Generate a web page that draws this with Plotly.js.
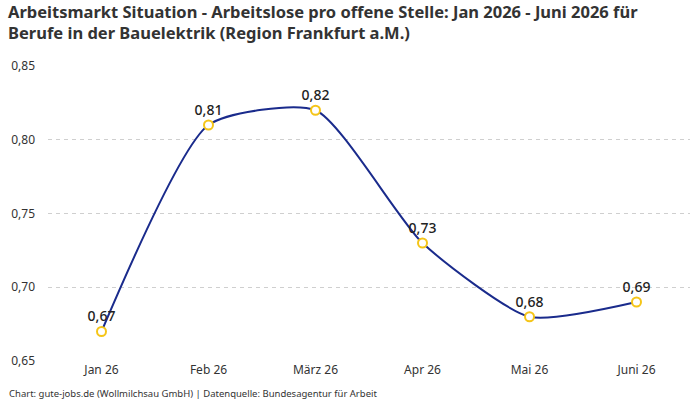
<!DOCTYPE html>
<html><head><meta charset="utf-8">
<script src="https://cdn.plot.ly/plotly-3.0.1.min.js"></script>
<style>html,body{margin:0;padding:0;background:#fff}#chart{width:700px;height:400px}</style>
</head><body><div id="chart"></div>
<script>
const categories = ["Jan 26","Feb 26","März 26","Apr 26","Mai 26","Juni 26"];
const values = [0.67, 0.81, 0.82, 0.73, 0.68, 0.69];
const yTicks = [0.65, 0.70, 0.75, 0.80, 0.85];
const yTickLabels = ["0,65","0,70","0,75","0,80","0,85"];
const valueLabels = values.map(v => v.toFixed(2).replace(".", ","));
const titleLines = ["Arbeitsmarkt Situation - Arbeitslose pro offene Stelle: Jan 2026 - Juni 2026 für",
                    "Berufe in der Bauelektrik (Region Frankfurt a.M.)"];
const footerText = "Chart: gute-jobs.de (Wollmilchsau GmbH) | Datenquelle: Bundesagentur für Arbeit";
const FONT = "Noto Sans, sans-serif";

const PLOT_TOP = 66, PLOT_H = 295;
const py = px => (PLOT_TOP + PLOT_H - px) / PLOT_H;

const trace = {
  x: categories, y: values, type: "scatter", mode: "lines+markers+text",
  line: {color: "#1a2b8c", width: 2, shape: "spline", smoothing: 0.6},
  marker: {size: 9, color: "#ffffff", line: {color: "#f5c518", width: 2}},
  text: valueLabels, textposition: "top center",
  textfont: {family: FONT, size: 14, color: "#222", weight: 500},
  cliponaxis: false, hoverinfo: "skip"
};
const layout = {
  width: 700, height: 400,
  margin: {l: 48, r: 10, t: PLOT_TOP, b: 400 - PLOT_TOP - PLOT_H},
  paper_bgcolor: "#fff", plot_bgcolor: "#fff",
  font: {family: FONT, color: "#333"},
  showlegend: false,
  xaxis: {type: "category", range: [-0.5, 5.5], showgrid: false, zeroline: false, showline: false,
          ticks: "", tickfont: {family: FONT, size: 12, color: "#333"}, fixedrange: true},
  yaxis: {range: [0.65, 0.85], tickvals: yTicks, ticktext: yTickLabels,
          showgrid: true, gridcolor: "#cfcfcf", griddash: "4px,4px", gridwidth: 1,
          zeroline: false, showline: false, ticks: "", ticklabelstandoff: 12,
          tickfont: {family: FONT, size: 12, color: "#333"}, fixedrange: true},
  annotations: [
    {text: "<b>" + titleLines[0] + "</b>", xref: "paper", yref: "paper", x: -0.064, y: py(11),
     xanchor: "left", yanchor: "middle", align: "left", showarrow: false, borderpad: 0,
     font: {family: FONT, size: 16.5, color: "#333"}},
    {text: "<b>" + titleLines[1] + "</b>", xref: "paper", yref: "paper", x: -0.064, y: py(32),
     xanchor: "left", yanchor: "middle", align: "left", showarrow: false, borderpad: 0,
     font: {family: FONT, size: 16.5, color: "#333"}},
    {text: footerText, xref: "paper", yref: "paper", x: -0.064, y: py(393),
     xanchor: "left", yanchor: "middle", showarrow: false,
     font: {family: FONT, size: 9.5, color: "#333"}}
  ]
};
Plotly.newPlot("chart", [trace], layout, {displayModeBar: false, staticPlot: true});
</script></body></html>
